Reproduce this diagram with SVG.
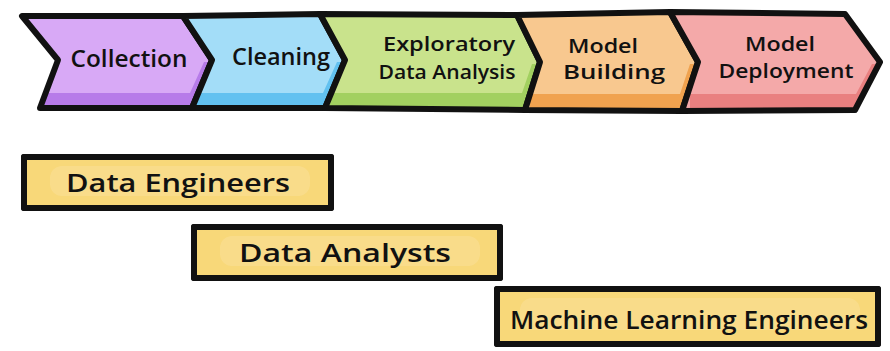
<svg xmlns="http://www.w3.org/2000/svg" width="890" height="351" viewBox="0 0 890 351">
<defs>
<clipPath id="k1"><polygon points="22,16 183,16 212,60 192,108 40,108 58,60"/></clipPath>
<clipPath id="k2"><polygon points="183,16 320,14 345,60 325,108 192,108 212,60"/></clipPath>
<clipPath id="k3"><polygon points="320,14 517,15 540,62 525,110 325,108 345,60"/></clipPath>
<clipPath id="k4"><polygon points="517,15 670,12 698,62 682,111 525,110 540,62"/></clipPath>
<clipPath id="k5"><polygon points="670,12 845,14 880,62 855,110 682,111 698,62"/></clipPath>
</defs>
<style>
.edge{fill:none;stroke:#111;stroke-width:6;stroke-linejoin:round;stroke-linecap:round}
.lbl{font-family:"Open Sans","Liberation Sans",sans-serif;font-weight:600;fill:#111;text-anchor:middle}
.box{fill:#f8d879;stroke:#111;stroke-width:6;stroke-linejoin:round}
.hl{fill:#fbe3a0}
</style>
<rect width="890" height="351" fill="#ffffff"/>
<g id="collection">
<polygon points="22,16 183,16 212,60 192,108 40,108 58,60" fill="#d8a9f6"/>
<polygon clip-path="url(#k1)" points="30,93 190,93 204,62 230,62 230,120 30,120" fill="#b77be9"/>
<polygon class="edge" points="22,16 183,16 212,60 192,108 40,108 58,60"/>
<text class="lbl" x="129" y="67" font-size="23" textLength="117" lengthAdjust="spacingAndGlyphs">Collection</text>
</g>
<g id="cleaning">
<polygon points="183,16 320,14 345,60 325,108 192,108 212,60" fill="#a3ddf8"/>
<polygon clip-path="url(#k2)" points="190,93 323,93 337,62 360,62 360,120 190,120" fill="#62c1f0"/>
<polygon class="edge" points="183,16 320,14 345,60 325,108 192,108 212,60"/>
<text class="lbl" x="281" y="65" font-size="23" textLength="98" lengthAdjust="spacingAndGlyphs">Cleaning</text>
</g>
<g id="eda">
<polygon points="320,14 517,15 540,62 525,110 325,108 345,60" fill="#c9e38c"/>
<polygon clip-path="url(#k3)" points="330,93 522,93 532,64 560,64 560,120 330,120" fill="#a2d060"/>
<polygon class="edge" points="320,14 517,15 540,62 525,110 325,108 345,60"/>
<text class="lbl" x="449" y="51" font-size="20" textLength="132" lengthAdjust="spacingAndGlyphs">Exploratory</text>
<text class="lbl" x="447" y="79" font-size="20" textLength="137" lengthAdjust="spacingAndGlyphs">Data Analysis</text>
</g>
<g id="model-building">
<polygon points="517,15 670,12 698,62 682,111 525,110 540,62" fill="#f8c88f"/>
<polygon clip-path="url(#k4)" points="530,94 680,94 690,64 720,64 720,120 530,120" fill="#f0a24f"/>
<polygon class="edge" points="517,15 670,12 698,62 682,111 525,110 540,62"/>
<text class="lbl" x="603" y="53" font-size="20" textLength="70" lengthAdjust="spacingAndGlyphs">Model</text>
<text class="lbl" x="614" y="79" font-size="20" textLength="102" lengthAdjust="spacingAndGlyphs">Building</text>
</g>
<g id="model-deployment">
<polygon points="670,12 845,14 880,62 855,110 682,111 698,62" fill="#f4a9a9"/>
<polygon clip-path="url(#k5)" points="690,94 856,94 872,64 900,64 900,120 690,120" fill="#e98080"/>
<polygon class="edge" points="670,12 845,14 880,62 855,110 682,111 698,62"/>
<text class="lbl" x="780" y="51" font-size="20" textLength="70" lengthAdjust="spacingAndGlyphs">Model</text>
<text class="lbl" x="786" y="78" font-size="20" textLength="135" lengthAdjust="spacingAndGlyphs">Deployment</text>
</g>
<g id="data-engineers">
<rect class="box" x="24" y="157" width="307" height="51"/>
<rect class="hl" x="50" y="166" width="260" height="30" rx="12" opacity="0.45"/>
<rect x="24" y="157" width="307" height="51" class="edge"/>
<text class="lbl" x="178" y="192" font-size="26" textLength="224" lengthAdjust="spacingAndGlyphs">Data Engineers</text>
</g>
<g id="data-analysts">
<rect class="box" x="194" y="227" width="306" height="51"/>
<rect class="hl" x="220" y="236" width="260" height="30" rx="12" opacity="0.45"/>
<rect x="194" y="227" width="306" height="51" class="edge"/>
<text class="lbl" x="345" y="262" font-size="26" textLength="212" lengthAdjust="spacingAndGlyphs">Data Analysts</text>
</g>
<g id="ml-engineers">
<rect class="box" x="497" y="289" width="381" height="55"/>
<rect class="hl" x="520" y="298" width="340" height="32" rx="12" opacity="0.45"/>
<rect x="497" y="289" width="381" height="55" class="edge"/>
<text class="lbl" x="689" y="329" font-size="26" textLength="358" lengthAdjust="spacingAndGlyphs">Machine Learning Engineers</text>
</g>
<g id="connectors"></g>
</svg>
